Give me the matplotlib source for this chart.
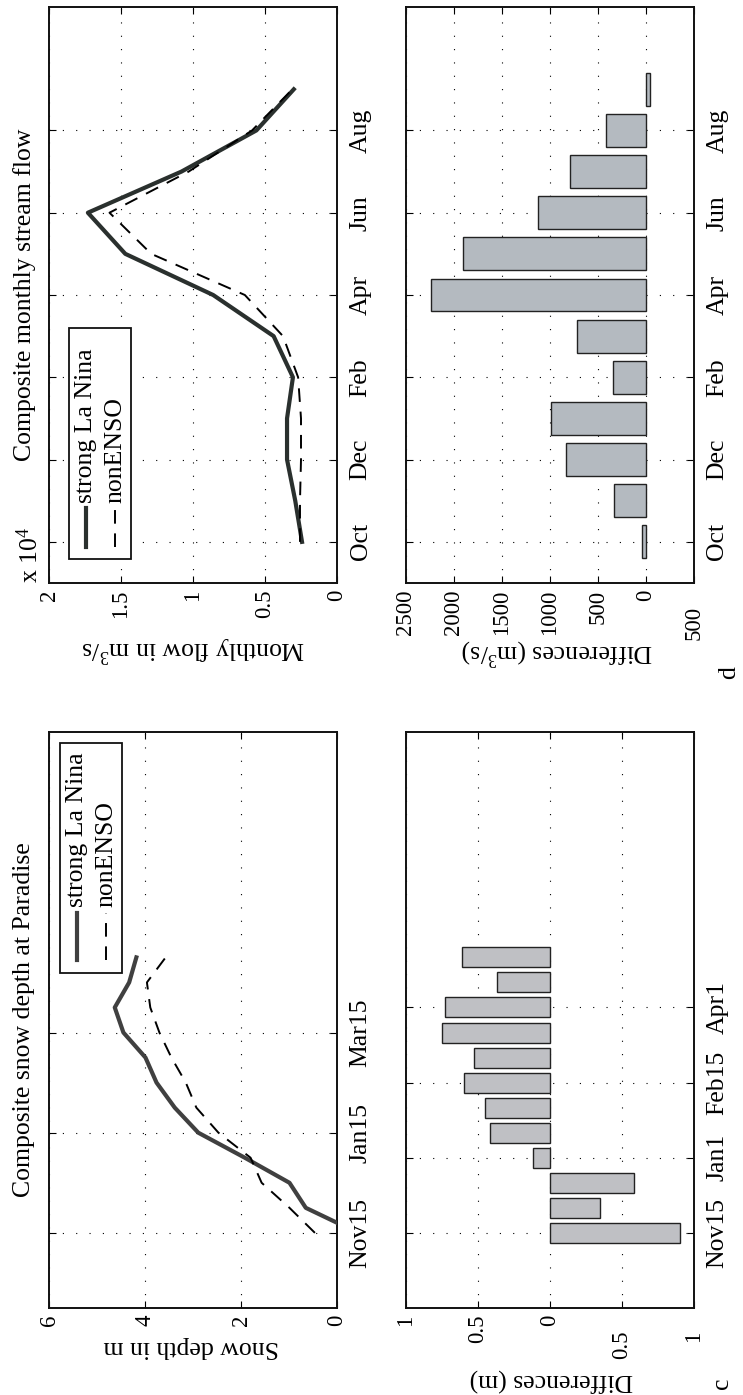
import numpy as np
import matplotlib
matplotlib.use("Agg")
import matplotlib.pyplot as plt
from matplotlib.lines import Line2D
from matplotlib.patches import Rectangle

plt.rcParams['font.family'] = ['Liberation Serif', 'DejaVu Serif']
plt.rcParams['mathtext.fontset'] = 'custom'
plt.rcParams['mathtext.rm'] = 'Liberation Serif'
plt.rcParams['mathtext.it'] = 'Liberation Serif:italic'

# ---------------- data ----------------
series_labels = ['strong La Nina', 'nonENSO']

flow_months = ['Oct', 'Nov', 'Dec', 'Jan', 'Feb', 'Mar', 'Apr', 'May', 'Jun', 'Jul', 'Aug', 'Sep']
flow_tick_labels = ['Oct', 'Dec', 'Feb', 'Apr', 'Jun', 'Aug']
flow_lanina = [2430, 2900, 3470, 3470, 3060, 4400, 8600, 14700, 17300, 10800, 5600, 3000]   # m^3/s
flow_nonenso = [2570, 2570, 2500, 2500, 2700, 3750, 6400, 12900, 15800, 10300, 5900, 3100]  # m^3/s
flow_diff = [40, 333, 833, 990, 344, 719, 2240, 1906, 1125, 792, 417, -38]                  # m^3/s

semi_month_calendar = ['Oct1', 'Oct15', 'Nov1', 'Nov15', 'Dec1', 'Dec15', 'Jan1', 'Jan15',
                       'Feb1', 'Feb15', 'Mar1', 'Mar15', 'Apr1', 'Apr15', 'May1', 'May15',
                       'Jun1', 'Jun15', 'Jul1', 'Jul15', 'Aug1', 'Aug15', 'Sep1', 'Sep15']
snow_periods = ['Nov15', 'Dec1', 'Dec15', 'Jan1', 'Jan15', 'Feb1', 'Feb15', 'Mar1',
                'Mar15', 'Apr1', 'Apr15', 'May1']
snow_lanina = [-0.44, 0.65, 0.99, 1.92, 2.89, 3.38, 3.76, 3.99, 4.45, 4.63, 4.33, 4.18]
snow_nonenso = [0.46, 0.99, 1.57, 1.80, 2.47, 2.93, 3.15, 3.45, 3.70, 3.89, 3.96, 3.57]
snow_diff = [-0.90, -0.35, -0.58, 0.12, 0.42, 0.45, 0.60, 0.53, 0.75, 0.73, 0.37, 0.61]
snow_comp_ticks = ['Nov15', 'Jan15', 'Mar15']
snow_diff_ticks = ['Nov15', 'Jan1', 'Feb15', 'Apr1']

flow_ticks = [0, 0.5, 1, 1.5, 2]
flow_diff_ticks = [2500, 2000, 1500, 1000, 500, 0, -500]
snow_ticks = [0, 2, 4, 6]
snow_diff_xticks = [1, 0.5, 0, -0.5, -1]

# ---------------- figure ----------------
W, H = 743, 1395
fig = plt.figure(figsize=(W / 100, H / 100), dpi=100)
FS = 18.5
TFS = 16.5
SOLID_FLOW = '#2a302e'
SOLID_SNOW = '#404040'


def fx(x):
    return x / W


def fy(y):
    return 1 - y / H


def rect(x0, y0, w, h):
    return [fx(x0), fy(y0 + h), w / W, h / H]


def fmt(v):
    return '%g' % abs(v)


def style(ax, xticks, yticks, ylabels):
    ax.set_xticks(xticks)
    ax.set_xticklabels([fmt(v) for v in xticks])
    ax.set_yticks(yticks)
    ax.set_yticklabels(ylabels)
    ax.tick_params(axis='both', direction='in', length=5, width=0.8,
                   top=True, bottom=True, left=True, right=True, labelsize=TFS)
    ax.tick_params(axis='y', labelleft=False, labelright=True, pad=9, labelsize=FS)
    ax.tick_params(axis='x', pad=5)
    for lab in ax.get_xticklabels():
        lab.set_rotation(90)
        lab.set_ha('center')
        lab.set_va('top')
    for lab in ax.get_yticklabels():
        lab.set_rotation(90)
        lab.set_va('center')
        lab.set_ha('left')
    for v, lab in zip(xticks, ax.get_xticklabels()):
        if v < 0:
            lab.set_y(-0.027)
    ax.grid(True, linestyle=(0, (1, 11)), color='k', lw=0.8)
    ax.set_axisbelow(True)
    for s in ax.spines.values():
        s.set_linewidth(1.4)
        s.set_color('#111111')


def legend(ax, box, xs, y_top, y_bot, y_text, solid_color):
    x0, y0, x1, y1 = box
    r = Rectangle((fx(x0), fy(y1)), (x1 - x0) / W, (y1 - y0) / H, transform=fig.transFigure,
                  facecolor='white', edgecolor='#111111', lw=1.3, zorder=10, clip_on=False)
    ax.add_patch(r)
    styles = [dict(color=solid_color, lw=3.0, ls='-'),
              dict(color='k', lw=1.4, ls=(0, (7, 5)))]
    for x, st, lab in zip(xs, styles, series_labels):
        ln = Line2D([fx(x), fx(x)], [fy(y_bot), fy(y_top)], transform=fig.transFigure,
                    zorder=11, clip_on=False, **st)
        ax.add_line(ln)
        ax.text(fx(x), fy(y_text), lab, transform=fig.transFigure, rotation=90,
                ha='center', va='bottom', fontsize=FS, zorder=12)


# ---- Composite monthly stream flow ----
ax1 = fig.add_axes(rect(49, 7, 288, 576))
yf = np.arange(1, len(flow_months) + 1)
ax1.plot(np.array(flow_lanina) / 1e4, yf, color=SOLID_FLOW, lw=3.0, zorder=3)
ax1.plot(np.array(flow_nonenso) / 1e4, yf, color='k', lw=1.4, ls=(0, (7, 5)), zorder=3)
ax1.set_xlim(2, 0)
ax1.set_ylim(0, len(flow_months) + 2)
style(ax1, flow_ticks, [flow_months.index(m) + 1 for m in flow_tick_labels], flow_tick_labels)
legend(ax1, (69, 328, 131, 559), [86, 115], 508, 547, 503, SOLID_FLOW)
fig.text(fx(24.5), fy(295), 'Composite monthly stream flow', rotation=90,
         ha='center', va='center', fontsize=FS)
fig.text(fx(43), fy(583), r'x 10$^4$', rotation=90, ha='right', va='bottom', fontsize=FS)
fig.text(fx(193), fy(649), r'Monthly flow in m$^3$/s', rotation=180,
         ha='center', va='center', fontsize=FS)

# ---- Flow differences ----
ax2 = fig.add_axes(rect(406, 7, 288, 576))
ax2.barh(yf, flow_diff, height=0.8, color='#b4bac0', edgecolor='#222222', lw=1.0, zorder=2)
ax2.set_xlim(2500, -500)
ax2.set_ylim(0, len(flow_months) + 2)
style(ax2, flow_diff_ticks, [flow_months.index(m) + 1 for m in flow_tick_labels], flow_tick_labels)
fig.text(fx(557), fy(652), r'Differences (m$^3$/s)', rotation=180,
         ha='center', va='center', fontsize=FS)
fig.text(fx(729), fy(673), 'd', rotation=90, ha='center', va='center', fontsize=FS)

# ---- Composite snow depth ----
ax3 = fig.add_axes(rect(49, 732, 288, 576))
ys = np.array([semi_month_calendar.index(p) for p in snow_periods])
ax3.plot(snow_lanina, ys, color=SOLID_SNOW, lw=3.0, zorder=3)
ax3.plot(snow_nonenso, ys, color='k', lw=1.4, ls=(0, (7, 5)), zorder=3)
ax3.set_xlim(6, 0)
ax3.set_ylim(0, len(semi_month_calendar) - 1)
style(ax3, snow_ticks, [semi_month_calendar.index(p) for p in snow_comp_ticks], snow_comp_ticks)
legend(ax3, (60, 743, 122, 973), [77, 106], 913, 960, 907, SOLID_SNOW)
fig.text(fx(24.5), fy(1020), 'Composite snow depth at Paradise', rotation=90,
         ha='center', va='center', fontsize=FS)
fig.text(fx(191), fy(1347), 'Snow depth in m', rotation=180,
         ha='center', va='center', fontsize=FS)

# ---- Snow differences ----
ax4 = fig.add_axes(rect(406, 732, 288, 576))
ax4.barh(ys, snow_diff, height=0.8, color='#bfc0c4', edgecolor='#222222', lw=1.0, zorder=2)
ax4.set_xlim(1, -1)
ax4.set_ylim(0, len(semi_month_calendar) - 1)
style(ax4, snow_diff_xticks, [semi_month_calendar.index(p) for p in snow_diff_ticks], snow_diff_ticks)
fig.text(fx(551), fy(1380), 'Differences (m)', rotation=180,
         ha='center', va='center', fontsize=FS)
fig.text(fx(722), fy(1383), 'c', rotation=90, ha='center', va='center', fontsize=FS)

fig.savefig('out.png', dpi=100)
